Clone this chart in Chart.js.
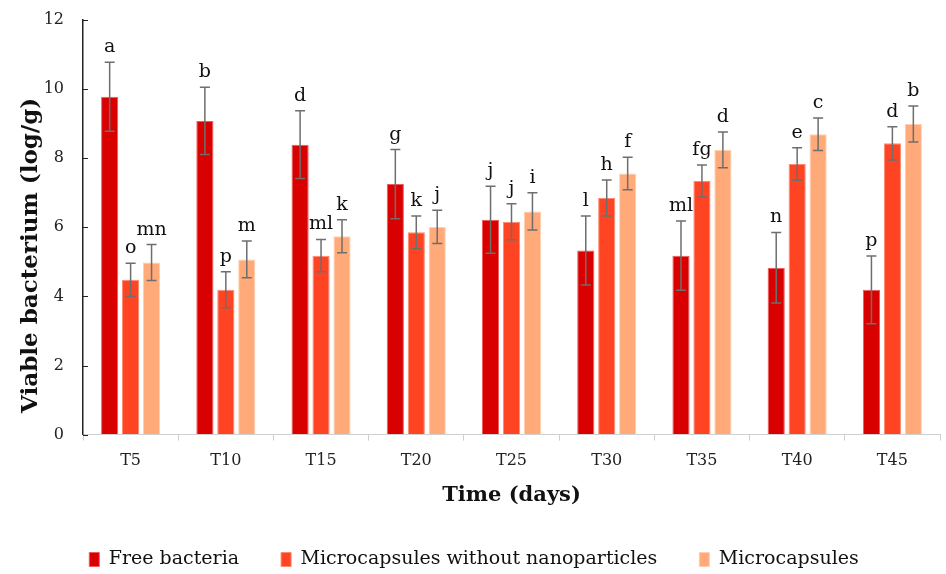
<!DOCTYPE html>
<html>
<head>
<meta charset="utf-8">
<script src="https://cdn.jsdelivr.net/npm/chart.js@4"></script>
<style>
  html, body { margin: 0; padding: 0; background: #fff; }
  #wrap { width: 946px; height: 574px; }
</style>
</head>
<body>
<div id="wrap"><canvas id="chart" width="946" height="574"></canvas></div>
<script>
// data
const days = ['T5', 'T10', 'T15', 'T20', 'T25', 'T30', 'T35', 'T40', 'T45'];

const freeBacteria = [9.78, 9.08, 8.39, 7.25, 6.22, 5.33, 5.18, 4.83, 4.19];
const freeErr      = [1.0, 0.97, 0.98, 1.0, 0.97, 1.0, 1.0, 1.02, 0.98];
const freeLetters  = ['a', 'b', 'd', 'g', 'j', 'l', 'ml', 'n', 'p'];

const microNoNano   = [4.48, 4.19, 5.18, 5.86, 6.16, 6.85, 7.34, 7.83, 8.43];
const noNanoErr     = [0.48, 0.52, 0.47, 0.47, 0.52, 0.52, 0.46, 0.47, 0.48];
const noNanoLetters = ['o', 'p', 'ml', 'k', 'j', 'h', 'fg', 'e', 'd'];

const microcapsules = [4.98, 5.07, 5.74, 6.01, 6.46, 7.56, 8.24, 8.69, 8.99];
const microErr      = [0.52, 0.53, 0.48, 0.48, 0.54, 0.47, 0.52, 0.47, 0.52];
const microLetters  = ['mn', 'm', 'k', 'j', 'i', 'f', 'd', 'c', 'b'];

const yTicks = [0, 2, 4, 6, 8, 10, 12];

const serif = "'DejaVu Serif', 'Liberation Serif', serif";

// error bars + significance letters, plus the inward y tick marks
const errorBars = {
    id: 'errorBars',
    afterDatasetsDraw(chart) {
        const ctx = chart.ctx;
        const y = chart.scales.y;
        ctx.save();
        ctx.strokeStyle = '#222';
        ctx.lineWidth = 1;
        ctx.beginPath();
        yTicks.forEach(function (v) {
            const py = Math.round(y.getPixelForValue(v)) + 0.5;
            ctx.moveTo(y.right, py);
            ctx.lineTo(y.right + 5, py);
        });
        ctx.stroke();

        chart.data.datasets.forEach(function (ds, di) {
            const meta = chart.getDatasetMeta(di);
            meta.data.forEach(function (bar, i) {
                const v = ds.data[i];
                const e = ds.errors[i];
                const top = y.getPixelForValue(v + e);
                const bot = y.getPixelForValue(v - e);
                ctx.strokeStyle = '#6e6e6e';
                ctx.lineWidth = 1.5;
                ctx.beginPath();
                ctx.moveTo(bar.x, top);
                ctx.lineTo(bar.x, bot);
                ctx.moveTo(bar.x - 5, top);
                ctx.lineTo(bar.x + 5, top);
                ctx.moveTo(bar.x - 5, bot);
                ctx.lineTo(bar.x + 5, bot);
                ctx.stroke();
                ctx.fillStyle = '#111';
                ctx.font = '19px ' + serif;
                ctx.textAlign = 'center';
                ctx.textBaseline = 'alphabetic';
                ctx.fillText(ds.letters[i], bar.x, top - 10);
            });
        });
        ctx.restore();
    }
};

const ctx = document.getElementById('chart').getContext('2d');
new Chart(ctx, {
    type: 'bar',
    data: {
        labels: days,
        datasets: [
            {
                label: 'Free bacteria',
                data: freeBacteria,
                errors: freeErr,
                letters: freeLetters,
                backgroundColor: '#d90000',
                borderColor: '#f05a5a',
                borderWidth: 1,
            },
            {
                label: 'Microcapsules without nanoparticles',
                data: microNoNano,
                errors: noNanoErr,
                letters: noNanoLetters,
                backgroundColor: '#ff4424',
                borderColor: '#ff8a70',
                borderWidth: 1,
            },
            {
                label: 'Microcapsules',
                data: microcapsules,
                errors: microErr,
                letters: microLetters,
                backgroundColor: '#ffaa78',
                borderColor: '#ffcfb0',
                borderWidth: 1,
            },
        ],
    },
    options: {
        responsive: false,
        animation: false,
        devicePixelRatio: 1,
        categoryPercentage: 0.66,
        barPercentage: 0.82,
        layout: { padding: { left: 8, right: 6, top: 20, bottom: 6 } },
        plugins: {
            tooltip: { enabled: false },
            legend: {
                position: 'bottom',
                maxHeight: 60,
                labels: {
                    font: { family: serif, size: 19 },
                    color: '#111',
                    boxWidth: 10,
                    boxHeight: 14,
                    padding: 42,
                },
            },
        },
        scales: {
            x: {
                grid: {
                    drawOnChartArea: false,
                    drawTicks: true,
                    tickLength: 6,
                    color: '#cfcfcf',
                },
                border: { color: '#d0d0d0', width: 1 },
                ticks: {
                    font: { family: serif, size: 16 },
                    color: '#222',
                    padding: 11,
                },
                title: {
                    display: true,
                    text: 'Time (days)',
                    font: { family: serif, size: 21, weight: 'bold' },
                    color: '#111',
                    padding: { top: 1, bottom: 0 },
                },
            },
            y: {
                min: 0,
                max: 12,
                afterBuildTicks(scale) {
                    scale.ticks = yTicks.map(function (v) { return { value: v }; });
                },
                afterFit(scale) {
                    scale.width = 75;
                    scale.paddingTop = 0;
                    scale.paddingBottom = 0;
                },
                grid: {
                    drawOnChartArea: false,
                    drawTicks: false,
                },
                border: { color: '#222', width: 1.5 },
                ticks: {
                    font: { family: serif, size: 16 },
                    color: '#222',
                    padding: 19,
                },
                title: {
                    display: true,
                    // trailing spaces push the title down the axis, as in the figure
                    text: 'Viable bacterium (log/g)       ',
                    font: { family: serif, size: 23, weight: 'bold' },
                    color: '#111',
                    padding: { top: 9, bottom: 0 },
                },
            },
        },
    },
    plugins: [errorBars],
});
</script>
</body>
</html>
